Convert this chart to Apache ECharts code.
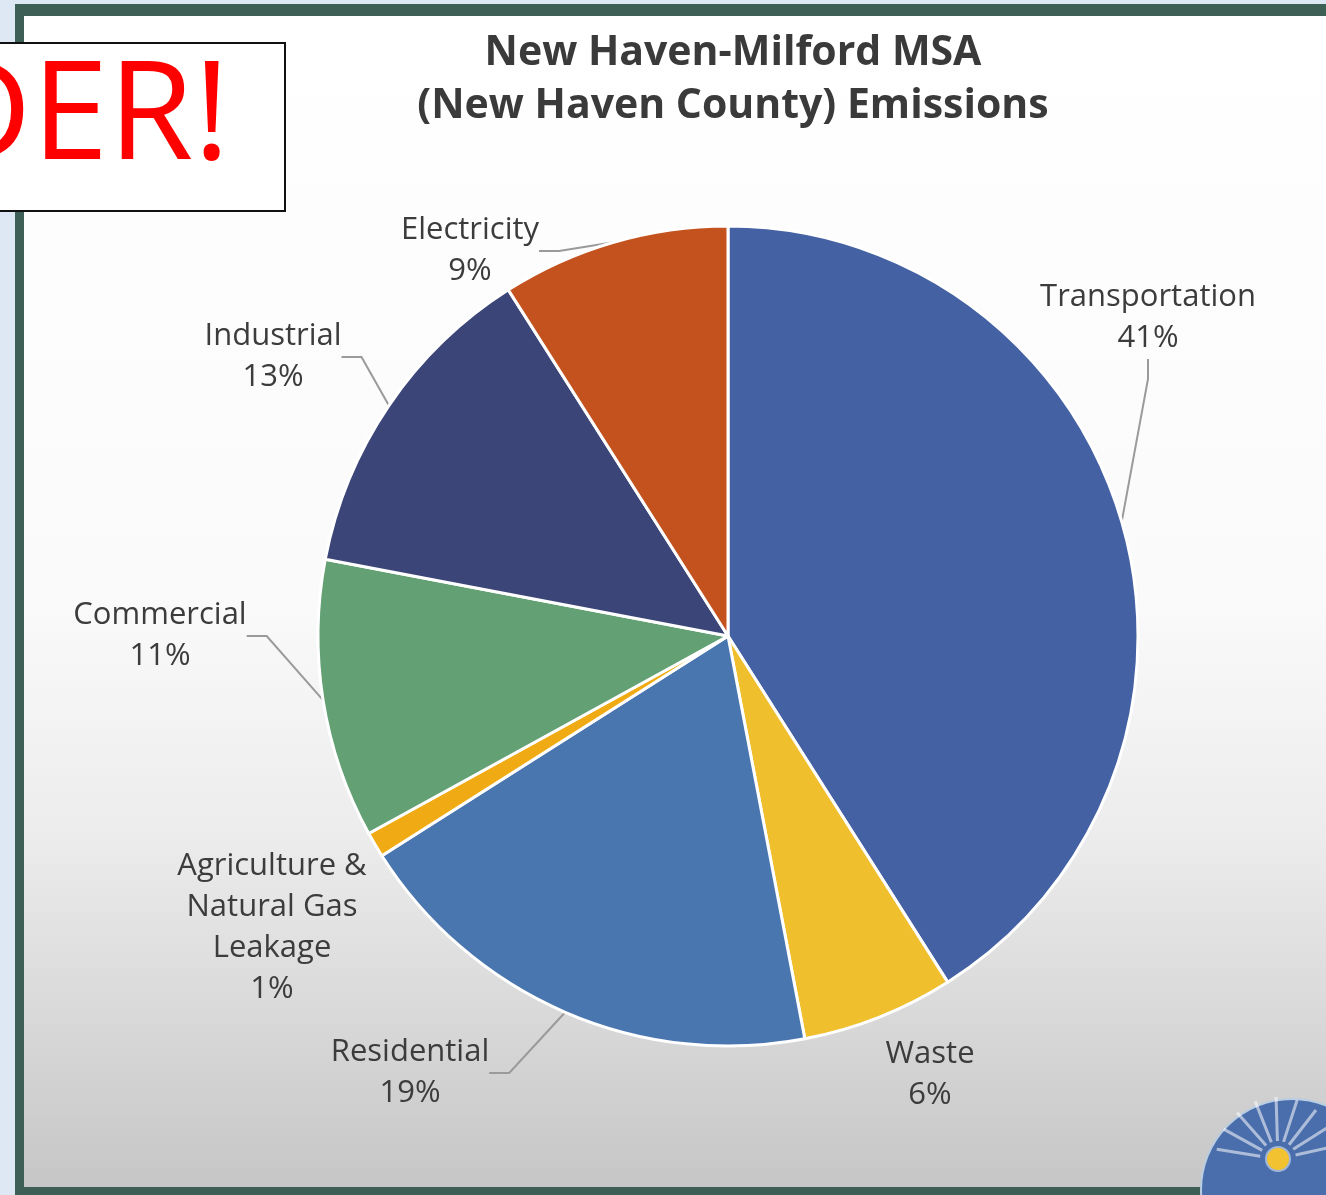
<!DOCTYPE html>
<html>
<head>
<meta charset="utf-8">
<script src="https://cdn.jsdelivr.net/npm/echarts@6/dist/echarts.min.js"></script>
<style>
  html, body { margin: 0; padding: 0; background: #dde8f4; }
  #main { width: 1326px; height: 1195px; }
</style>
</head>
<body>
<div id="main"></div>
<script>
// 数据
var sectors = ['Transportation', 'Waste', 'Residential', 'Agriculture &\nNatural Gas\nLeakage', 'Commercial', 'Industrial', 'Electricity'];
var shares = [41, 6, 19, 1, 11, 13, 9];
var sectorColors = ['#4461a3', '#efbf2e', '#4a76b0', '#f0ab14', '#63a174', '#3b4578', '#c4521e'];

// 标签位置 (label centres)
var labelAt = [[1148, 318], [930, 1075], [410, 1073], [272, 928], [160, 636], [273, 357], [470, 251]];

var myChart = echarts.init(document.getElementById('main'));

var pieData = sectors.map(function (name, i) {
  var item = {
    name: name,
    value: shares[i],
    itemStyle: { color: sectorColors[i] }
  };
  if (i === 1 || i === 3) { // 无引线
    item.labelLine = { show: false };
  }
  return item;
});

// logo 光线
var rays = [];
for (var k = 0; k < 9; k++) {
  var a = Math.PI * (1.05 + k * 0.11);
  rays.push({
    type: 'line', z: 13, silent: true,
    shape: {
      x1: 1278 + Math.cos(a) * 18, y1: 1159 + Math.sin(a) * 18,
      x2: 1278 + Math.cos(a) * 62, y2: 1159 + Math.sin(a) * 62
    },
    style: { stroke: 'rgba(255,255,255,0.55)', lineWidth: 3 }
  });
}

myChart.setOption({
  backgroundColor: '#dde8f4',
  title: {
    text: 'New Haven-Milford MSA\n(New Haven County) Emissions',
    left: 728,
    top: 22,
    textAlign: 'center',
    textStyle: {
      fontFamily: 'Open Sans',
      fontWeight: 'bold',
      fontSize: 41,
      lineHeight: 53,
      color: '#3a3a3a'
    }
  },
  graphic: [
    { // 外框
      type: 'rect', z: -10, silent: true,
      shape: { x: 15, y: 4, width: 1320, height: 1191 },
      style: { fill: '#3e5f55' }
    },
    { // 底色渐变
      type: 'rect', z: -9, silent: true,
      shape: { x: 24, y: 16, width: 1310, height: 1171 },
      style: {
        fill: new echarts.graphic.LinearGradient(0, 0, 0, 1, [
          { offset: 0, color: '#ffffff' },
          { offset: 0.5, color: '#fafafa' },
          { offset: 0.7, color: '#ececec' },
          { offset: 1, color: '#c6c6c6' }
        ])
      }
    },
    { // 红字框
      type: 'rect', z: 10, silent: true,
      shape: { x: -10, y: 43, width: 295, height: 168 },
      style: { fill: '#ffffff', stroke: '#111111', lineWidth: 2 }
    },
    {
      type: 'text', z: 11, silent: true,
      x: 230, y: 120,
      style: {
        text: 'DER!',
        fill: '#ff0000',
        font: '138px "Open Sans"',
        textAlign: 'right',
        textVerticalAlign: 'middle'
      }
    },
    { // logo
      type: 'circle', z: 12, silent: true,
      shape: { cx: 1292, cy: 1190, r: 91 },
      style: { fill: '#4a6eab', stroke: '#b9cde3', lineWidth: 2 }
    }
  ].concat(rays).concat([
    {
      type: 'circle', z: 14, silent: true,
      shape: { cx: 1278, cy: 1159, r: 12 },
      style: { fill: '#f2c230', stroke: '#9fb6d8', lineWidth: 2 }
    }
  ]),
  series: [
    {
      type: 'pie',
      center: [728, 636],
      radius: [0, 410],
      startAngle: 90,
      clockwise: true,
      avoidLabelOverlap: false,
      itemStyle: {
        borderColor: '#ffffff',
        borderWidth: 3
      },
      label: {
        show: true,
        formatter: function (p) {
          return p.name + '\n' + p.value + '%';
        },
        fontFamily: 'Open Sans',
        fontSize: 31,
        lineHeight: 41,
        color: '#3c3c3c',
        align: 'center'
      },
      labelLine: {
        show: true,
        length: 20,
        length2: 20,
        lineStyle: { color: '#9a9a9a', width: 2 }
      },
      labelLayout: function (params) {
        var pos = labelAt[params.dataIndex];
        return {
          x: pos[0],
          y: pos[1],
          align: 'center',
          verticalAlign: 'middle'
        };
      },
      emphasis: { disabled: true },
      data: pieData
    }
  ]
});
window.onresize = myChart.resize;
</script>
</body>
</html>
